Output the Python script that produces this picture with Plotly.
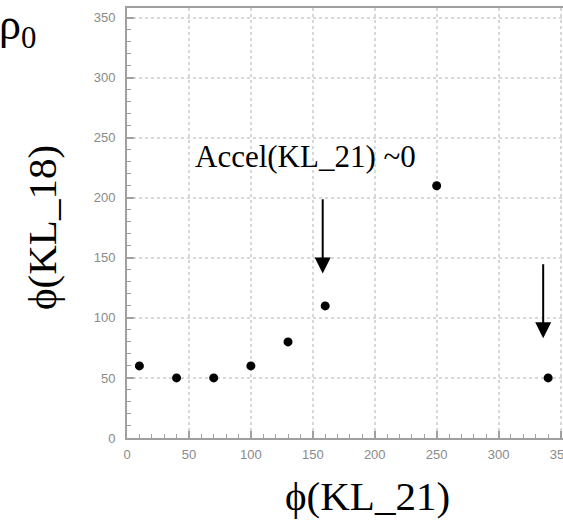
import plotly.graph_objects as go

# Data
phi_kl21 = [10, 40, 70, 100, 130, 160, 250, 340]
phi_kl18 = [60, 50, 50, 60, 80, 110, 210, 50]

x_tickvals = [0, 50, 100, 150, 200, 250, 300, 350]
y_tickvals = [0, 50, 100, 150, 200, 250, 300, 350]

# Arrow annotations (x, tail y, tip y) in data units
arrow_x = [158, 336]
arrow_tail_y = [200, 146]
arrow_tip_y = [137, 83]

label_text = "Accel(KL_21) ~0"
label_x, label_y = 144, 234

W, H = 563, 520
L, R, T, B = 127, 0, 8, 82
pw, ph = W - L - R, H - T - B

def px(xp):
    return (xp - L) / pw

def py(yp):
    return (H - B - yp) / ph

fig = go.Figure()
fig.add_trace(go.Scatter(
    x=phi_kl21, y=phi_kl18, mode="markers",
    marker=dict(color="black", size=9, line=dict(width=0)),
    showlegend=False, hoverinfo="x+y",
))

axis_gray = "#a0a0a0"
common = dict(
    showgrid=True, gridcolor="#d8d8d8", griddash="dot", gridwidth=2,
    zeroline=False, showline=True, linecolor=axis_gray, linewidth=2,
    mirror=True, ticks="inside", ticklen=7, tickwidth=1.5, tickcolor=axis_gray,
    tickfont=dict(family="Liberation Sans", size=13, color="#8a8a8a"),
    ticklabeloverflow="allow", automargin=False,
    minor=dict(dtick=10, ticks="inside", ticklen=4, tickwidth=1.2,
               tickcolor=axis_gray, showgrid=False),
)

fig.update_xaxes(range=[0, 352], tickvals=x_tickvals, ticklabelstandoff=3, **common)
fig.update_yaxes(range=[0, 358], tickvals=y_tickvals, ticklabelstandoff=7, **common)

annotations = []
for ax_, t_, h_ in zip(arrow_x, arrow_tail_y, arrow_tip_y):
    annotations.append(dict(
        x=ax_, y=h_, ax=ax_, ay=t_, xref="x", yref="y", axref="x", ayref="y",
        showarrow=True, arrowhead=2, arrowsize=1.6, arrowwidth=2,
        arrowcolor="black", text="",
    ))

annotations.append(dict(
    x=label_x, y=label_y, xref="x", yref="y", text=label_text, showarrow=False,
    xanchor="center", yanchor="middle",
    font=dict(family="Liberation Serif", size=31, color="black"),
))

# Axis titles
annotations.append(dict(
    x=px(367), y=py(496), xref="paper", yref="paper", text="\u03d5(KL_21)",
    showarrow=False, xanchor="center", yanchor="middle",
    font=dict(family="Liberation Serif", size=41, color="black"),
))
annotations.append(dict(
    x=px(42), y=py(228), xref="paper", yref="paper", text="\u03d5(KL_18)",
    showarrow=False, xanchor="center", yanchor="middle", textangle=-90,
    font=dict(family="Liberation Serif", size=41, color="black"),
))
# Partial text at top left (cut off by the left edge)
annotations.append(dict(
    x=px(38), y=py(27), xref="paper", yref="paper", text="\u03c1<sub>0</sub>",
    showarrow=False, xanchor="right", yanchor="middle",
    font=dict(family="Liberation Serif", size=44, color="black"),
))

fig.update_layout(
    width=W, height=H, margin=dict(l=L, r=R, t=T, b=B, pad=0, autoexpand=False),
    paper_bgcolor="white", plot_bgcolor="white",
    annotations=annotations,
)

fig.write_html("out.html")
